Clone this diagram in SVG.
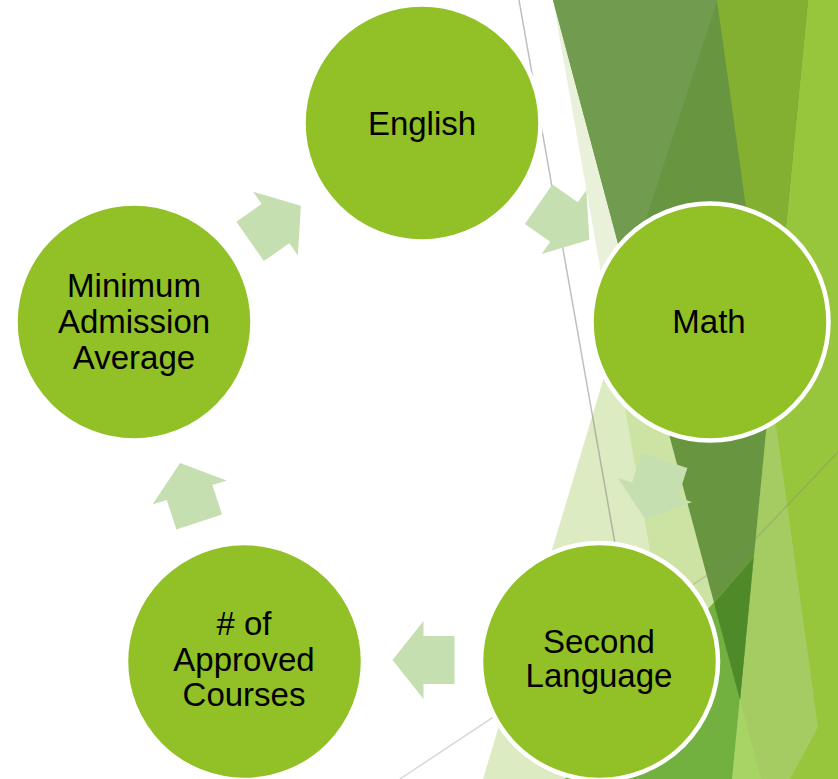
<svg xmlns="http://www.w3.org/2000/svg" xmlns:xlink="http://www.w3.org/1999/xlink" width="838" height="779" viewBox="0 0 838 779">
<style>
.node circle{fill:#91c126;stroke:#ffffff;stroke-width:4.5}
.node text{font-family:"Liberation Sans",Arial,sans-serif;font-size:33px;fill:#000;text-anchor:middle}
.arrow{fill:#c6dfb0}
</style>
<defs>
<polygon id="arw" points="-31,-24 0,-24 0,-39 31,0 0,39 0,24 -31,24"/>
</defs>
<rect width="838" height="779" fill="#ffffff"/>
<g id="background">
<polygon points="553,0 690,779 838,779 838,0" fill="#e9f1da"/>
<polygon points="717.5,0 483,779 838,779 838,0" fill="#dcebc1"/>
<polygon points="717.5,0 614,345 690,779 838,779 838,0" fill="#cde3a4"/>
<polygon points="808,0 732,779 838,779 838,0" fill="#a5cc62"/>
<polygon points="717,0 818,727 790,779 838,779 838,0" fill="#97c63d"/>
<polygon points="553,0 808,0 740,700" fill="#689640"/>
<polygon points="553,0 717.5,0 627,277" fill="#719c4f"/>
<polygon points="717,0 808,0 770.6,383" fill="#84b032"/>
<polygon points="740,700 732,779 761,779" fill="#a8d466"/>
<polygon points="565,779 650,674 753.5,558 732,779" fill="#72b040"/>
<polygon points="714,603 753.5,558 740,700" fill="#4f8a28"/>
<line x1="519" y1="0" x2="625" y2="600" stroke="#7f7f7f" stroke-opacity="0.5" stroke-width="1.5"/>
<polyline points="400,779 745,550 838,452" fill="none" stroke="#7f7f7f" stroke-opacity="0.3" stroke-width="1.5"/>
</g>
<g id="connectors">
<use xlink:href="#arw" class="arrow" transform="translate(564,222) rotate(35)"/>
<use xlink:href="#arw" class="arrow" transform="translate(655,490) rotate(108)"/>
<use xlink:href="#arw" class="arrow" transform="translate(423.5,660) rotate(180)"/>
<use xlink:href="#arw" class="arrow" transform="translate(189.6,492.5) rotate(-108)"/>
<use xlink:href="#arw" class="arrow" transform="translate(275.5,223.6) rotate(-35)"/>
</g>
<g id="node-english" class="node">
<circle cx="422" cy="123" r="118.5"/>
<text x="422" y="135">English</text>
</g>
<g id="node-math" class="node">
<circle cx="710" cy="322" r="118.5"/>
<text x="709" y="333">Math</text>
</g>
<g id="node-second-language" class="node">
<circle cx="599.5" cy="661.5" r="118.5"/>
<text x="599" y="652.5">Second</text>
<text x="599" y="687">Language</text>
</g>
<g id="node-approved-courses" class="node">
<circle cx="244.5" cy="661.5" r="118.5"/>
<text x="244" y="635">#  of</text>
<text x="244" y="671">Approved</text>
<text x="244" y="706">Courses</text>
</g>
<g id="node-min-admission" class="node">
<circle cx="134" cy="322" r="118.5"/>
<text x="134" y="297">Minimum</text>
<text x="134" y="333">Admission</text>
<text x="134" y="369">Average</text>
</g>
</svg>
